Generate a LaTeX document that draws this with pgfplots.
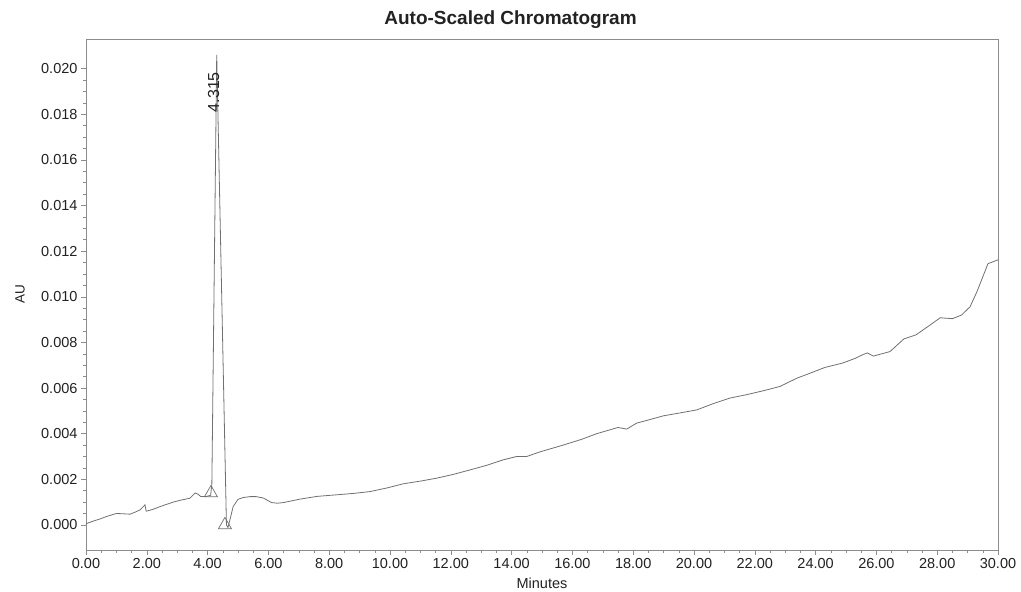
\documentclass[border=0pt]{standalone}
\usepackage{pgfplots}
\pgfplotsset{compat=1.18}
\usepackage{fontspec}
\setmainfont{Liberation Sans}
\definecolor{trace}{HTML}{707070}
\definecolor{frame}{HTML}{8C8C8C}
\definecolor{txt}{HTML}{222222}
\begin{document}
\begin{tikzpicture}
\useasboundingbox (-86pt,-42pt) rectangle (935pt,550pt);
\begin{axis}[
  at={(0pt,0pt)}, anchor=south west,
  scale only axis, width=912pt, height=511pt,
  xmin=0, xmax=30, ymin=-0.0011, ymax=0.0213,
  xtick={0,2,...,30}, minor x tick num=3,
  ytick={0,0.002,0.004,0.006,0.008,0.010,0.012,0.014,0.016,0.018,0.020},
  minor y tick num=3,
  scaled y ticks=false, scaled x ticks=false,
  xtick pos=bottom, ytick pos=left, tick align=outside,
  major tick length=5pt, minor tick length=3pt,
  axis line style={frame, line width=0.6pt},
  every tick/.style={frame, line width=0.5pt},
  /pgf/number format/assume math mode=true,
  x tick label style={/pgf/number format/fixed, /pgf/number format/fixed zerofill, /pgf/number format/precision=2},
  y tick label style={/pgf/number format/fixed, /pgf/number format/fixed zerofill, /pgf/number format/precision=3},
  tick label style={font=\fontsize{14.5}{16}\selectfont, text=txt},
  title={\textbf{Auto-Scaled Chromatogram}},
  title style={at={(axis description cs:0.4655,1.0157)}, anchor=base, font=\fontsize{19}{22}\selectfont, text=txt},
  xlabel={Minutes},
  xlabel style={at={(axis description cs:0.5,-0.0744)}, anchor=base, font=\fontsize{14.5}{16}\selectfont, text=txt},
  ylabel={AU},
  ylabel style={at={(axis description cs:-0.0724,0.5)}, anchor=center, font=\fontsize{13.5}{15}\selectfont, text=txt},
  clip=false,
]
\addplot[trace, line width=0.8pt, mark=none] coordinates {
(0,0.00005) (0.2,0.00015) (0.46,0.00026) (0.7,0.00038) (1.0,0.00050) (1.2,0.00049)
(1.45,0.00047) (1.6,0.00055) (1.78,0.00066) (1.94,0.00088) (1.98,0.00060) (2.2,0.00068)
(2.43,0.00080) (2.87,0.00100) (3.1,0.00108) (3.42,0.00117) (3.59,0.00140) (3.68,0.00135)
(3.78,0.00124) (3.97,0.00125) (4.10,0.00130) (4.14,0.00180) (4.30,0.02060) (4.62,0.00000)
(4.67,-0.00012) (4.74,0.00025) (4.84,0.00080) (5.00,0.00112) (5.17,0.00120) (5.40,0.00124)
(5.60,0.00124) (5.83,0.00118) (5.94,0.00110) (6.10,0.00098) (6.30,0.00095) (6.50,0.00098)
(7.04,0.00113) (7.6,0.00125) (8.25,0.00132) (8.8,0.00138) (9.34,0.00146) (9.9,0.00162)
(10.43,0.0018) (11.0,0.00192) (11.54,0.00205) (12.1,0.00222) (12.63,0.00241) (13.2,0.00262)
(13.72,0.00285) (14.17,0.0030) (14.5,0.0030) (14.93,0.0032) (15.7,0.0035) (16.3,0.00375)
(16.8,0.0040) (17.5,0.00427) (17.79,0.0042) (18.11,0.00446) (18.5,0.0046) (18.99,0.00478)
(19.5,0.0049) (20.09,0.00504) (20.6,0.0053) (21.18,0.00556) (21.7,0.0057) (22.28,0.00588)
(22.83,0.00607) (23.38,0.00643) (23.82,0.00665) (24.3,0.0069) (24.9,0.0071) (25.3,0.0073)
(25.55,0.00746) (25.7,0.00754) (25.9,0.0074) (26.45,0.0076) (26.9,0.00815) (27.3,0.00833)
(27.7,0.0087) (28.1,0.00908) (28.5,0.00904) (28.8,0.0092) (29.08,0.00956) (29.3,0.0102)
(29.67,0.01145) (30,0.01162)
};
\addplot[only marks, mark=triangle, mark size=7.5pt, trace, mark options={line width=0.7pt}] coordinates {
(4.11,0.00140) (4.57,0.00000)
};
\node[rotate=90, anchor=center, font=\fontsize{16}{18}\selectfont, text=txt] at (axis cs:4.20,0.01897) {4.315};
\end{axis}
\end{tikzpicture}
\end{document}
